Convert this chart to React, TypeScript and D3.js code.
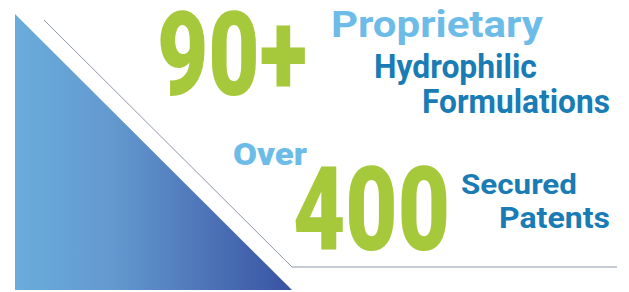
import { useEffect, useRef } from "react";
import * as d3 from "d3";

// headline figures and their captions
const figures = ["90+", "400"];
const prefixes = ["", "Over"];
const captionTop = ["Proprietary", "Secured"];
const captionMid = ["Hydrophilic", "Patents"];
const captionBottom = ["Formulations", ""];

const W = 629;
const H = 292;

export default function App() {
  const ref = useRef<SVGSVGElement>(null);

  useEffect(() => {
    const svg = d3.select(ref.current).attr("width", W).attr("height", H);
    svg.selectAll("*").remove();

    const x = d3.scaleLinear().domain([0, 1]).range([15, 292]);
    const y = d3.scaleLinear().domain([0, 1]).range([14, 290]);

    const defs = svg.append("defs");
    const grad = defs
      .append("linearGradient")
      .attr("id", "tri")
      .attr("x1", "0%")
      .attr("x2", "100%")
      .attr("y1", "0%")
      .attr("y2", "0%");
    grad.append("stop").attr("offset", "0%").attr("stop-color", "#6aacdc");
    grad.append("stop").attr("offset", "35%").attr("stop-color", "#6399cf");
    grad.append("stop").attr("offset", "100%").attr("stop-color", "#3953a2");

    const line = d3.line();
    svg
      .append("path")
      .attr(
        "d",
        line([
          [x(0), y(0)],
          [x(0), y(1)],
          [x(1), y(1)],
        ]) + "Z",
      )
      .attr("fill", "url(#tri)");

    svg
      .append("path")
      .attr(
        "d",
        line([
          [44, 20],
          [292, 267],
          [617, 267],
        ]),
      )
      .attr("fill", "none")
      .attr("stroke", "#8c97a6")
      .attr("stroke-width", 1);

    const green = "#a6c83b";
    const light = "#6dbce8";
    const dark = "#1a7cb4";

    // squeeze each text horizontally to the width it has in the picture
    const txt = (
      s: string,
      px: number,
      py: number,
      size: number,
      len: number,
      color: string,
      weight = 700,
    ) => {
      if (!s) return;
      const t = svg
        .append("text")
        .attr("font-family", "Roboto, sans-serif")
        .attr("font-weight", weight)
        .attr("font-size", size)
        .attr("fill", color)
        .text(s);
      const w = (t.node() as SVGTextElement).getComputedTextLength() || len;
      t.attr("transform", `translate(${px},${py}) scale(${len / w},1)`);
    };

    // first block
    txt(figures[0], 157, 95, 117, 150, green, 900);
    txt(prefixes[0], 0, 0, 0, 0, light);
    txt(captionTop[0], 331, 37, 37, 212, light);
    txt(captionMid[0], 374, 78, 34, 163, dark);
    txt(captionBottom[0], 422, 113, 34, 188, dark);

    // second block
    txt(prefixes[1], 233, 165, 32, 74, light, 900);
    txt(figures[1], 293, 250, 117, 157, green, 900);
    txt(captionTop[1], 461, 194, 28, 116, dark);
    txt(captionMid[1], 499, 228, 29, 111, dark);
    txt(captionBottom[1], 0, 0, 0, 0, dark);
  }, []);

  return (
    <div style={{ position: "fixed", left: 0, top: 0, background: "#fff" }}>
      <svg ref={ref} style={{ display: "block" }} />
    </div>
  );
}
